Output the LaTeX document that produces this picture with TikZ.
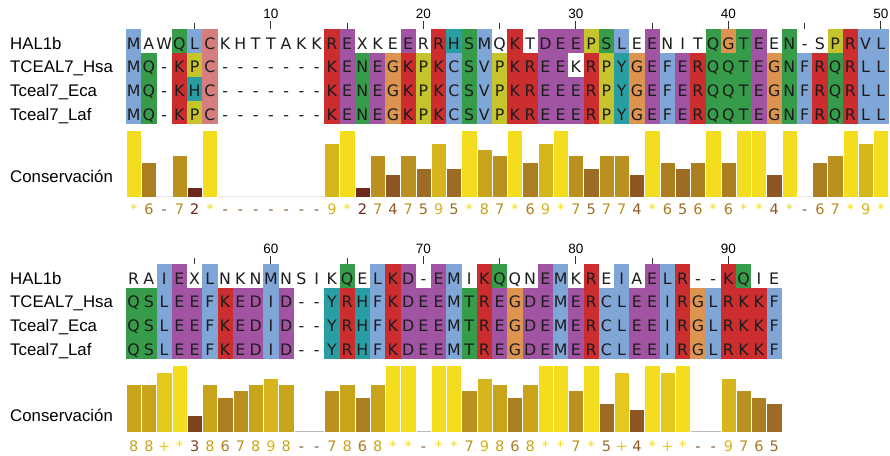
\documentclass[tikz,border=0pt]{standalone}
\usepackage{fontspec}
\setmainfont{Liberation Sans}
\newfontfamily\resfont{DejaVu Sans}
% residue colours (Clustal-like)
\definecolor{rcb}{RGB}{128,165,215}
\definecolor{rcr}{RGB}{204,46,48}
\definecolor{rcm}{RGB}{160,84,162}
\definecolor{rcg}{RGB}{54,156,74}
\definecolor{rcp}{RGB}{214,126,126}
\definecolor{rco}{RGB}{220,148,80}
\definecolor{rcy}{RGB}{198,196,44}
\definecolor{rcc}{RGB}{40,158,162}
\definecolor{rcn}{RGB}{255,255,255}
\definecolor{restext}{RGB}{28,28,28}
% conservation colours
\definecolor{kc11}{RGB}{243,221,30}
\definecolor{kc10}{RGB}{229,201,30}
\definecolor{kc9}{RGB}{215,181,28}
\definecolor{kc8}{RGB}{200,164,26}
\definecolor{kc7}{RGB}{186,145,30}
\definecolor{kc6}{RGB}{172,126,34}
\definecolor{kc5}{RGB}{157,107,36}
\definecolor{kc4}{RGB}{142,86,34}
\definecolor{kc3}{RGB}{126,66,28}
\definecolor{kc2}{RGB}{110,40,26}
\definecolor{kc1}{RGB}{100,30,22}
\definecolor{kc0}{RGB}{130,88,50}
\definecolor{tickc}{RGB}{50,50,50}

\tikzset{
  lbl/.style={anchor=base west, inner sep=0pt, text=black, font=\fontsize{16.8}{18}\selectfont},
  res/.style={anchor=base, inner sep=0pt, text=restext, font=\resfont\fontsize{15.8}{16}\selectfont},
  cnum/.style={anchor=base, inner sep=0pt, font=\resfont\fontsize{14.5}{15}\selectfont},
  ticknum/.style={anchor=base, inner sep=0pt, text=black, font=\fontsize{13.5}{14}\selectfont},
  tickline/.style={draw=tickc, line width=1.1pt},
  baseln/.style={line width=1.2pt}
}

\newcommand\alnrow[4]{%
  \node[lbl] (#1lab) at (10,{#2+19.8}) {#3};
  \foreach \ch/\cl [count=\i] in {#4} {
    \fill[fill=rc\cl] ({126+(\i-1)*15.25},{#2}) rectangle ({126+\i*15.25},{#2+23.75});
    \node[res] (#1c\i) at ({126+(\i-0.5)*15.25},{#2+19.8}) {\ch};
  }%
}
\newcommand\consrow[4]{%
  \foreach \v/\g [count=\i] in {#4} {
    \ifnum\v>0
      \filldraw[fill=kc\v, draw=white, line width=0.3pt] ({126+(\i-1)*15.25},{#2}) rectangle ({126+\i*15.25},{#2-(6.25*\v-2.6)});
    \fi
    \node[cnum, text=kc\v] (#1n\i) at ({126+(\i-0.5)*15.25},{#3}) {\g};
  }%
}

\begin{document}
\begin{tikzpicture}[x=1pt,y=-1pt]
\fill[white] (0,0) rectangle (890,455);
\useasboundingbox (0,0) rectangle (890,455);

% ---------------- Block 1 ----------------
\foreach \i in {5,15,25,35,45} {
  \draw[tickline] ({126+(\i-0.5)*15.25},22.5) -- ({126+(\i-0.5)*15.25},29);
}
\foreach \i in {10,20,30,40,50} {
  \draw[tickline] ({126+(\i-0.5)*15.25},20.5) -- ({126+(\i-0.5)*15.25},29);
  \node[ticknum] (tA\i) at ({126+(\i-0.5)*15.25},18.9) {\i};
}

\alnrow{aA}{29.3}{HAL1b}{M/b,A/n,W/n,Q/g,L/b,C/p,K/n,H/n,T/n,T/n,A/n,K/n,K/n,R/r,E/m,X/n,K/n,E/n,E/m,R/n,R/r,H/c,S/g,M/b,Q/n,K/r,T/n,D/m,E/m,E/m,P/y,S/g,L/b,E/n,E/m,N/n,I/n,T/n,Q/g,G/o,T/g,E/m,E/n,N/g,-/n,S/n,P/y,R/r,V/b,L/b}
\alnrow{aB}{53.05}{TCEAL7\_Hsa}{M/b,Q/g,-/n,K/r,P/y,C/p,-/n,-/n,-/n,-/n,-/n,-/n,-/n,K/r,E/m,N/g,E/m,G/o,K/r,P/y,K/r,C/b,S/g,V/b,P/y,K/r,R/r,E/m,E/m,K/n,R/r,P/y,Y/c,G/o,E/m,F/b,E/m,R/r,Q/g,Q/g,T/g,E/m,G/o,N/g,F/b,R/r,Q/g,R/r,L/b,L/b}
\alnrow{aC}{76.8}{Tceal7\_Eca}{M/b,Q/g,-/n,K/r,H/c,C/p,-/n,-/n,-/n,-/n,-/n,-/n,-/n,K/r,E/m,N/g,E/m,G/o,K/r,P/y,K/r,C/b,S/g,V/b,P/y,K/r,R/r,E/m,E/m,E/m,R/r,P/y,Y/c,G/o,E/m,F/b,E/m,R/r,Q/g,Q/g,T/g,E/m,G/o,N/g,F/b,R/r,Q/g,R/r,L/b,L/b}
\alnrow{aD}{100.55}{Tceal7\_Laf}{M/b,Q/g,-/n,K/r,P/y,C/p,-/n,-/n,-/n,-/n,-/n,-/n,-/n,K/r,E/m,N/g,E/m,G/o,K/r,P/y,K/r,C/b,S/g,V/b,P/y,K/r,R/r,E/m,E/m,E/m,R/r,P/y,Y/c,G/o,E/m,F/b,E/m,R/r,Q/g,Q/g,T/g,E/m,G/o,N/g,F/b,R/r,Q/g,R/r,L/b,L/b}

\draw[baseln, gray!20] (126,196.7) -- ({126+50*15.25},196.7);
\node[lbl] (consA) at (10,182.6) {Conservación};
\consrow{cA}{196.7}{214}{11/*,6/6,0/-,7/7,2/2,11/*,0/-,0/-,0/-,0/-,0/-,0/-,0/-,9/9,11/*,2/2,7/7,4/4,7/7,5/5,9/9,5/5,11/*,8/8,7/7,11/*,6/6,9/9,11/*,7/7,5/5,7/7,7/7,4/4,11/*,6/6,5/5,6/6,11/*,6/6,11/*,11/*,4/4,11/*,0/-,6/6,7/7,11/*,9/9,11/*}

% ---------------- Block 2 ----------------
\foreach \i in {5,15,25,35} {
  \draw[tickline] ({126+(\i-0.5)*15.25},257.5) -- ({126+(\i-0.5)*15.25},264);
}
\foreach \i [evaluate=\i as \lab using int(\i+50)] in {10,20,30,40} {
  \draw[tickline] ({126+(\i-0.5)*15.25},255.5) -- ({126+(\i-0.5)*15.25},264);
  \node[ticknum] (tB\i) at ({126+(\i-0.5)*15.25},253.9) {\lab};
}

\alnrow{bA}{264.3}{HAL1b}{R/n,A/n,I/b,E/m,X/n,L/b,N/n,K/n,N/n,M/b,N/n,S/n,I/n,K/n,Q/g,E/n,L/b,K/r,D/m,-/n,E/m,M/b,I/n,K/r,Q/g,Q/n,N/n,E/m,M/b,K/n,R/r,E/n,I/b,A/n,E/m,L/b,R/r,-/n,-/n,K/r,Q/g,I/n,E/n}
\alnrow{bB}{288.05}{TCEAL7\_Hsa}{Q/g,S/g,L/b,E/m,E/m,F/b,K/r,E/m,D/m,I/b,D/m,-/n,-/n,Y/c,R/r,H/c,F/b,K/r,D/m,E/m,E/m,M/b,T/g,R/r,E/m,G/o,D/m,E/m,M/b,E/m,R/r,C/b,L/b,E/m,E/m,I/b,R/r,G/o,L/b,R/r,K/r,K/r,F/b}
\alnrow{bC}{311.8}{Tceal7\_Eca}{Q/g,S/g,L/b,E/m,E/m,F/b,K/r,E/m,D/m,I/b,D/m,-/n,-/n,Y/c,R/r,H/c,F/b,K/r,D/m,E/m,E/m,M/b,T/g,R/r,E/m,G/o,D/m,E/m,M/b,E/m,R/r,C/b,L/b,E/m,E/m,I/b,R/r,G/o,L/b,R/r,K/r,K/r,F/b}
\alnrow{bD}{335.55}{Tceal7\_Laf}{Q/g,S/g,L/b,E/m,E/m,F/b,K/r,E/m,D/m,I/b,D/m,-/n,-/n,Y/c,R/r,H/c,F/b,K/r,D/m,E/m,E/m,M/b,T/g,R/r,E/m,G/o,D/m,E/m,M/b,E/m,R/r,C/b,L/b,E/m,E/m,I/b,R/r,G/o,L/b,R/r,K/r,K/r,F/b}

\draw[baseln, gray!55] (126,431.7) -- ({126+43*15.25},431.7);
\node[lbl] (consB) at (10,421) {Conservación};
\consrow{cB}{431.7}{451.5}{8/8,8/8,10/+,11/*,3/3,8/8,6/6,7/7,8/8,9/9,8/8,0/-,0/-,7/7,8/8,6/6,8/8,11/*,11/*,0/-,11/*,11/*,7/7,9/9,8/8,6/6,8/8,11/*,11/*,7/7,11/*,5/5,10/+,4/4,11/*,10/+,11/*,0/-,0/-,9/9,7/7,6/6,5/5}
\end{tikzpicture}
\end{document}
